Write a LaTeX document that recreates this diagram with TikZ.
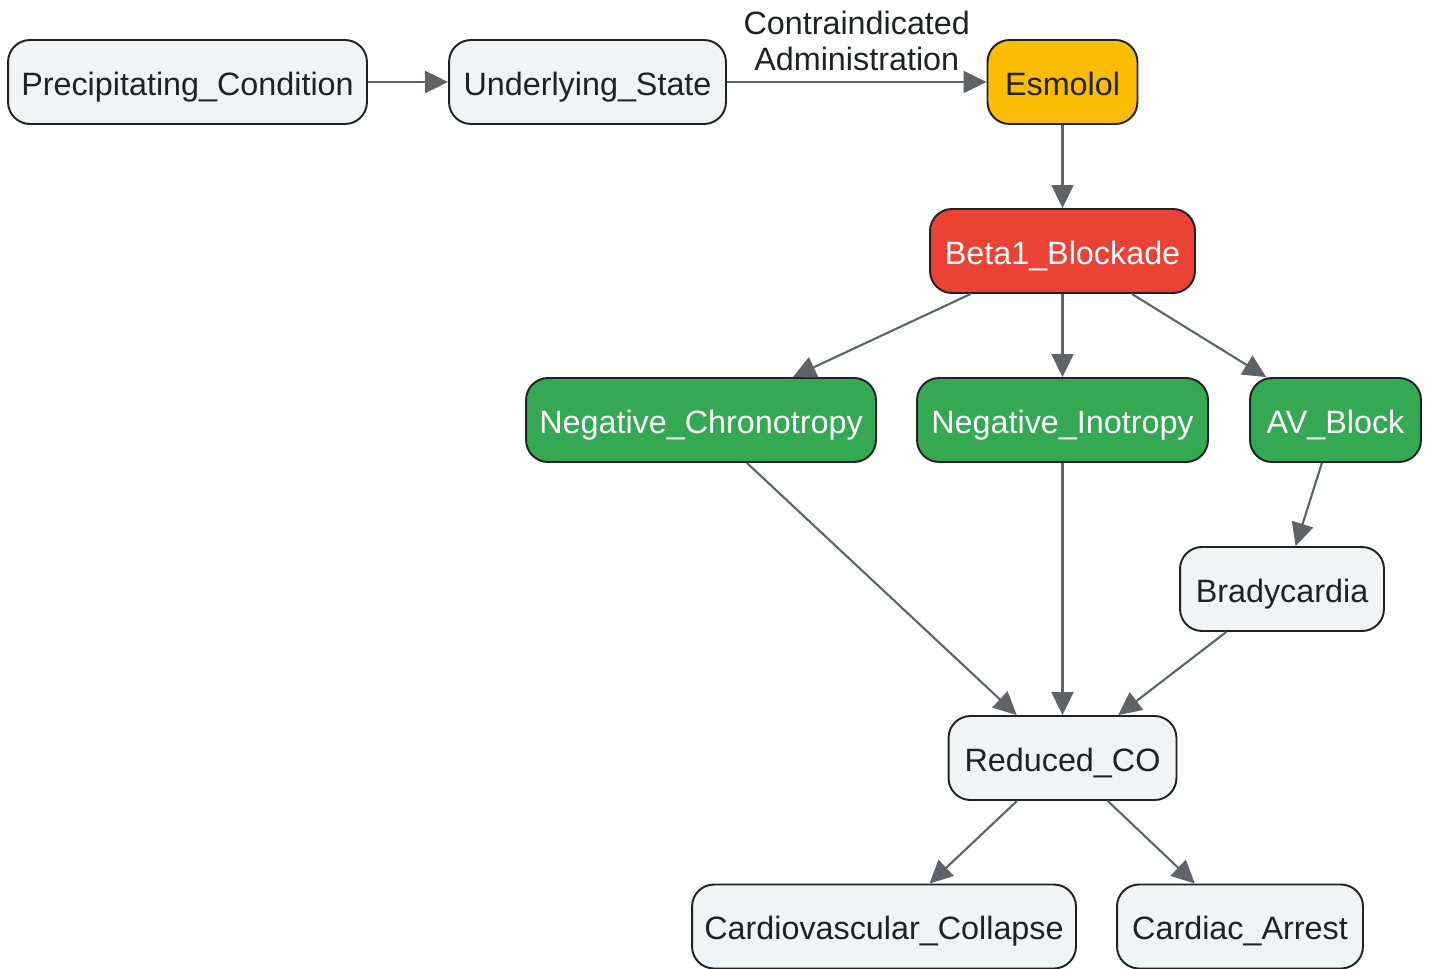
\documentclass[tikz,border=0pt]{standalone}
\usepackage{fontspec}
\setmainfont{Liberation Sans}
\usetikzlibrary{arrows.meta}

\definecolor{nodegray}{HTML}{F1F3F4}
\definecolor{nodeline}{HTML}{202124}
\definecolor{edgegray}{HTML}{5F6368}
\definecolor{drugyellow}{HTML}{FBBC04}
\definecolor{mechred}{HTML}{EA4335}
\definecolor{effectgreen}{HTML}{34A853}

\begin{document}
\begin{tikzpicture}
	\tikzstyle{state} = [draw=nodeline, line width=1.1pt, shape=rectangle, rounded corners=0.44cm, fill=nodegray, text=nodeline, minimum height=1.68cm, inner sep=0pt, text height=0.55cm, text depth=0.02cm, font=\fontsize{18.4}{20.5}\selectfont]
	\tikzstyle{drug} = [state, fill=drugyellow]
	\tikzstyle{mech} = [state, fill=mechred, text=white]
	\tikzstyle{effect} = [state, fill=effectgreen, text=white]
	\tikzstyle{link} = [-{Triangle[length=0.46cm,width=0.44cm]}, line width=1.2pt, color=edgegray]

	\def\incx{0.02}
	\def\incy{0.02}

	\useasboundingbox (0,0) rectangle (1430*\incx,-969*\incy);

	% NODES %
	\node[state, minimum width=7.18cm] (precip) at (187.5*\incx,-82*\incy) {Precipitating\_Condition};
	\node[state, minimum width=5.54cm] (under) at (587.5*\incx,-82*\incy) {Underlying\_State};
	\node[drug, minimum width=3.0cm] (esmolol) at (1062.5*\incx,-82*\incy) {Esmolol};

	\node[mech, minimum width=5.3cm] (beta) at (1062.5*\incx,-251*\incy) {Beta1\_Blockade};

	\node[effect, minimum width=7.0cm] (chrono) at (701*\incx,-420*\incy) {Negative\_Chronotropy};
	\node[effect, minimum width=5.82cm] (ino) at (1062.5*\incx,-420*\incy) {Negative\_Inotropy};
	\node[effect, minimum width=3.42cm] (avb) at (1335.5*\incx,-420*\incy) {AV\_Block};

	\node[state, minimum width=4.08cm] (brady) at (1282*\incx,-589*\incy) {Bradycardia};
	\node[state, minimum width=4.56cm] (redco) at (1062.5*\incx,-758*\incy) {Reduced\_CO};

	\node[state, minimum width=7.68cm] (collapse) at (884*\incx,-926.5*\incy) {Cardiovascular\_Collapse};
	\node[state, minimum width=4.92cm] (arrest) at (1240*\incx,-926.5*\incy) {Cardiac\_Arrest};

	% EDGES %
	\draw[link] (precip) -- (under);
	\draw[link] (under) -- node[above, inner sep=6pt, align=center, text=nodeline, font=\fontsize{18.4}{20.5}\selectfont] {Contraindicated\\Administration} (esmolol);
	\draw[link] (esmolol) -- (beta);
	%effects
	\draw[link] (beta) -- (chrono);
	\draw[link] (beta) -- (ino);
	\draw[link] (beta) -- (avb);
	\draw[link] (avb) -- (brady);
	%output
	\draw[link] (chrono) -- (redco);
	\draw[link] (ino) -- (redco);
	\draw[link] (brady) -- (redco);
	\draw[link] (redco) -- (collapse);
	\draw[link] (redco) -- (arrest);
\end{tikzpicture}
\end{document}
